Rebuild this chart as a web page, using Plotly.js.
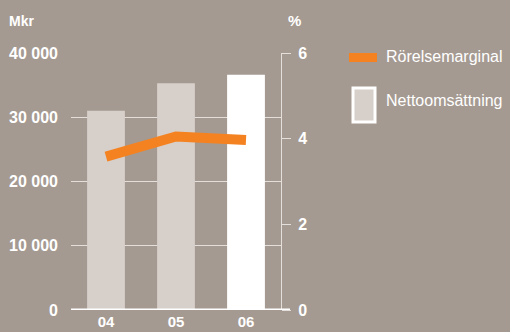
<!DOCTYPE html>
<html><head><meta charset="utf-8">
<script src="https://cdn.plot.ly/plotly-3.0.1.min.js"></script>
<style>html,body{margin:0;padding:0;background:#a59a91;}#chart{width:510px;height:332px;}</style>
</head><body><div id="chart"></div>
<script>
const years = ['04', '05', '06'];
const salesMkr = [31000, 35300, 36600];
const marginPct = [3.58, 4.05, 3.97];
const barColors = ['#d7cfca', '#d7cfca', '#ffffff'];
const leftTickVals = [0, 10000, 20000, 30000, 40000];
const leftTickText = ['0', '10 000', '20 000', '30 000', '40 000'];
const rightTickVals = [0, 2, 4, 6];
const seriesNames = ['Rörelsemarginal', 'Nettoomsättning'];
const unitLeft = 'Mkr';
const unitRight = '%';

const bg = '#a59a91';
const fontFam = '"Liberation Sans", Arial, Helvetica, sans-serif';

const traces = [
  {type: 'bar', x: years, y: salesMkr, marker: {color: barColors}, yaxis: 'y', showlegend: false, hoverinfo: 'skip'},
  {type: 'scatter', mode: 'lines', x: years, y: marginPct, yaxis: 'y2', line: {color: '#f58220', width: 10}, showlegend: false, hoverinfo: 'skip'}
];

const layout = {
  width: 510, height: 332,
  margin: {l: 71, r: 229, t: 53, b: 22, pad: 0},
  paper_bgcolor: bg, plot_bgcolor: bg,
  font: {family: fontFam, color: '#ffffff'},
  bargap: 0.46,
  showlegend: false,
  xaxis: {type: 'category', showgrid: false, zeroline: false, showline: false, ticks: '',
    tickfont: {size: 15, weight: 'bold', color: '#ffffff'}, ticklabelstandoff: 1},
  yaxis: {range: [0, 40000], tickvals: leftTickVals, ticktext: leftTickText, showgrid: true,
    gridcolor: '#e4dfdb', gridwidth: 1, zeroline: false, showline: false, ticks: '',
    tickfont: {size: 16, weight: 'bold', color: '#ffffff'}, ticklabelstandoff: 12},
  yaxis2: {range: [0, 6], tickvals: rightTickVals, overlaying: 'y', side: 'right', showgrid: false,
    zeroline: false, showline: true, linecolor: '#e4dfdb', linewidth: 1, ticks: 'outside', ticklen: 9,
    tickcolor: '#e4dfdb', tickwidth: 1, tickfont: {size: 16, weight: 'bold', color: '#ffffff'}, ticklabelstandoff: 4},
  shapes: [
    {type: 'line', xref: 'paper', yref: 'y', x0: 0, x1: (290-71)/210, y0: 0, y1: 0, line: {color: '#ffffff', width: 3}},
    {type: 'rect', xref: 'paper', yref: 'paper', x0: (349-71)/210, x1: (377-71)/210, y0: (310-62)/257, y1: (310-53)/257, fillcolor: '#f58220', line: {width: 0}},
    {type: 'rect', xref: 'paper', yref: 'paper', x0: (353-71)/210, x1: (375-71)/210, y0: (310-122)/257, y1: (310-88)/257, fillcolor: '#d7cfca', line: {color: '#ffffff', width: 3}}
  ],
  annotations: [
    {xref: 'paper', yref: 'paper', x: (7-71)/210, y: (310-20.5)/257, xanchor: 'left', yanchor: 'middle', text: unitLeft, showarrow: false, font: {size: 14, weight: 'bold', color: '#ffffff'}},
    {xref: 'paper', yref: 'paper', x: (286-71)/210, y: (310-20.5)/257, xanchor: 'left', yanchor: 'middle', text: unitRight, showarrow: false, font: {size: 15, weight: 'bold', color: '#ffffff'}},
    {xref: 'paper', yref: 'paper', x: (384-71)/210, y: (310-57)/257, xanchor: 'left', yanchor: 'middle', text: seriesNames[0], showarrow: false, font: {size: 16, color: '#ffffff'}},
    {xref: 'paper', yref: 'paper', x: (384-71)/210, y: (310-100)/257, xanchor: 'left', yanchor: 'middle', text: seriesNames[1], showarrow: false, font: {size: 16, color: '#ffffff'}}
  ]
};
Plotly.newPlot('chart', traces, layout, {staticPlot: true, displayModeBar: false});
</script></body></html>
